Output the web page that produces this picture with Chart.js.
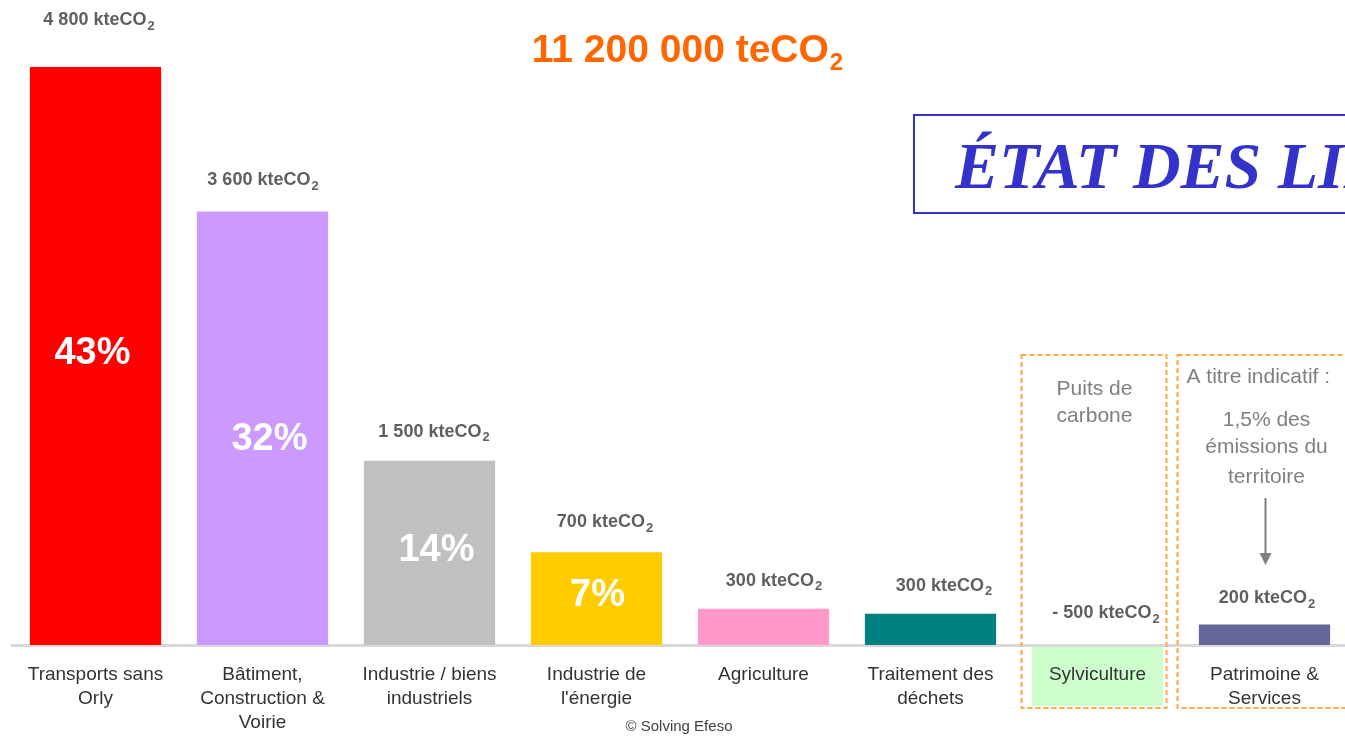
<!DOCTYPE html>
<html>
<head>
<meta charset="utf-8">
<script src="https://cdn.jsdelivr.net/npm/chart.js@4.4.1/dist/chart.umd.min.js"></script>
<style>
  html, body { margin: 0; padding: 0; background: #ffffff; overflow: hidden; }
  #wrap { position: relative; width: 1348px; height: 737px; }
</style>
</head>
<body>
<div id="wrap"><canvas id="c" width="1348" height="737"></canvas></div>
<script>
// ---- data ----
const categories = [
  ["Transports sans", "Orly"],
  ["Bâtiment,", "Construction &", "Voirie"],
  ["Industrie / biens", "industriels"],
  ["Industrie de", "l'énergie"],
  ["Agriculture"],
  ["Traitement des", "déchets"],
  ["Sylviculture"],
  ["Patrimoine &", "Services"]
];
const barValues = [4800, 3600, 1530, 770, 300, 260, null, 170];
const valueLabels = ["4 800", "3 600", "1 500", "700", "300", "300", "- 500", "200"];
const shareLabels = ["43%", "32%", "14%", "7%", "", "", "", ""];
const barColors = ["#FF0000", "#CC99FF", "#C0C0C0", "#FFCC00", "#FF99CC", "#008080", "#CCFFCC", "#666699"];
const totalLabel = "11 200 000 teCO";
const unitLabel = "kteCO";

// ---- styling helpers (not data) ----
const labelGap = [47, 31, 29, 30, 28, 28, 32, 26];
const labelDx = [3, 0, 4, 8, 10, 13, 8, 2];
const shareDx = [-3, 7, 7, 1, 0, 0, 0, 0];
const shareDy = [-2, 11, -2, -3, 0, 0, 0, 0];
const SANS = "'Liberation Sans', Arial, sans-serif";

function drawSub(ctx, main, sub, cx, cy, mainFont, subFont, subDy, color) {
  ctx.save();
  ctx.fillStyle = color;
  ctx.textBaseline = 'middle';
  ctx.textAlign = 'left';
  ctx.font = mainFont;
  const w1 = ctx.measureText(main).width;
  ctx.font = subFont;
  const w2 = ctx.measureText(sub).width;
  const x0 = cx - (w1 + w2) / 2;
  ctx.font = mainFont;
  ctx.fillText(main, x0, cy);
  ctx.font = subFont;
  ctx.fillText(sub, x0 + w1 + 1, cy + subDy);
  ctx.restore();
}

const decorPlugin = {
  id: 'decor',
  beforeDraw(chart) {
    const ctx = chart.ctx;
    const xs = chart.scales.x;
    const ys = chart.scales.y;
    const base = ys.getPixelForValue(0);
    const bw = xs.width / categories.length * 0.786;
    // Sylviculture label background
    const sx = xs.getPixelForValue(6);
    ctx.save();
    ctx.fillStyle = barColors[6];
    ctx.fillRect(sx - bw / 2, base + 1, bw, 60);
    ctx.restore();
  },
  afterDraw(chart) {
    const ctx = chart.ctx;
    const xs = chart.scales.x;
    const ys = chart.scales.y;
    const base = ys.getPixelForValue(0);

    // Title
    drawSub(ctx, totalLabel, "2", 687, 51, "bold 39px " + SANS, "bold 24px " + SANS, 12, "#FF6600");

    // Value labels
    for (let i = 0; i < categories.length; i++) {
      const cx = xs.getPixelForValue(i) + labelDx[i];
      const top = ys.getPixelForValue(Math.max(barValues[i] || 0, 0));
      drawSub(ctx, valueLabels[i] + " " + unitLabel, "2", cx, top - labelGap[i],
        "bold 18px " + SANS, "bold 13px " + SANS, 6, "#5f5f5f");
    }

    // Share labels inside bars
    ctx.save();
    ctx.fillStyle = "#FFFFFF";
    ctx.font = "bold 38px " + SANS;
    ctx.textAlign = 'center';
    ctx.textBaseline = 'middle';
    for (let i = 0; i < categories.length; i++) {
      if (!shareLabels[i]) continue;
      const cx = xs.getPixelForValue(i) + shareDx[i];
      const top = ys.getPixelForValue(barValues[i]);
      ctx.fillText(shareLabels[i], cx, (top + base) / 2 + shareDy[i]);
    }
    ctx.restore();

    // Dashed boxes
    const c6 = xs.getPixelForValue(6);
    const c7 = xs.getPixelForValue(7);
    ctx.save();
    ctx.strokeStyle = "#FFA64D";
    ctx.lineWidth = 2;
    ctx.setLineDash([5, 3]);
    ctx.strokeRect(c6 - 76, 355, 145, 353);
    ctx.strokeRect(c7 - 87, 355, 200, 353);
    ctx.restore();

    // Gray annotation texts
    ctx.save();
    ctx.fillStyle = "#808080";
    ctx.font = "21px " + SANS;
    ctx.textBaseline = 'middle';
    ctx.textAlign = 'center';
    ctx.fillText("Puits de", c6 - 3, 389);
    ctx.fillText("carbone", c6 - 3, 416);
    ctx.fillText("1,5% des", c7 + 2, 420);
    ctx.fillText("émissions du", c7 + 2, 447);
    ctx.fillText("territoire", c7 + 2, 477);
    ctx.textAlign = 'left';
    ctx.fillText("A titre indicatif :", c7 - 78, 377);
    // arrow
    ctx.strokeStyle = "#808080";
    ctx.lineWidth = 2;
    ctx.beginPath();
    ctx.moveTo(c7 + 1, 498);
    ctx.lineTo(c7 + 1, 556);
    ctx.stroke();
    ctx.beginPath();
    ctx.moveTo(c7 - 5, 553);
    ctx.lineTo(c7 + 7, 553);
    ctx.lineTo(c7 + 1, 565);
    ctx.closePath();
    ctx.fill();
    ctx.restore();

    // ÉTAT box
    ctx.save();
    ctx.strokeStyle = "#3333CC";
    ctx.lineWidth = 2;
    ctx.strokeRect(914, 115, 460, 98);
    ctx.fillStyle = "#3333CC";
    ctx.font = "italic bold 66px 'Liberation Serif', 'Times New Roman', serif";
    ctx.textBaseline = 'alphabetic';
    ctx.textAlign = 'left';
    ctx.fillText("ÉTAT DES LIEUX", 955, 188);
    ctx.restore();

    // Credit
    ctx.save();
    ctx.fillStyle = "#404040";
    ctx.font = "15px " + SANS;
    ctx.textAlign = 'center';
    ctx.textBaseline = 'middle';
    ctx.fillText("© Solving Efeso", 679, 727);
    ctx.restore();
  }
};

new Chart(document.getElementById('c'), {
  type: 'bar',
  data: {
    labels: categories,
    datasets: [{
      data: barValues,
      backgroundColor: barColors,
      borderWidth: 0,
      barPercentage: 0.786,
      categoryPercentage: 1.0
    }]
  },
  options: {
    responsive: false,
    animation: false,
    events: [],
    layout: { padding: { left: 12, right: 0, top: 0, bottom: 0 } },
    plugins: { legend: { display: false }, tooltip: { enabled: false } },
    scales: {
      x: {
        grid: { display: false, drawTicks: false },
        border: { display: true, color: '#D9D9D9', width: 3 },
        ticks: {
          color: '#333333',
          font: { family: SANS, size: 19, lineHeight: 1.25 },
          padding: 18,
          maxRotation: 0,
          autoSkip: false
        },
        afterFit(scale) { scale.height = 92; }
      },
      y: {
        display: false,
        min: 0,
        max: 5356
      }
    }
  },
  plugins: [decorPlugin]
});
</script>
</body>
</html>
